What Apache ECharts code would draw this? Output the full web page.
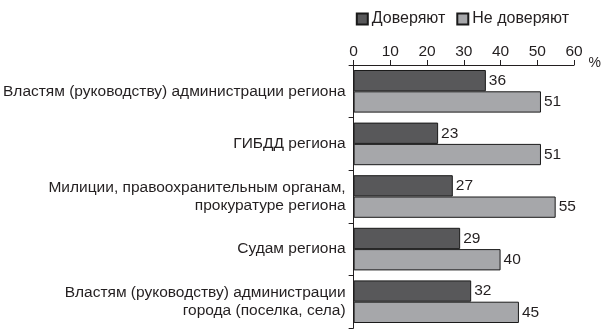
<!DOCTYPE html>
<html><head><meta charset="utf-8">
<script src="https://cdn.jsdelivr.net/npm/echarts@6/dist/echarts.min.js"></script>
<style>html,body{margin:0;padding:0;background:#fff}#c{width:604px;height:334px}</style>
</head><body><div id="c"></div>
<script>
const categories = [
  "Властям (руководству) администрации региона",
  "ГИБДД региона",
  "Милиции, правоохранительным органам,\nпрокуратуре региона",
  "Судам региона",
  "Властям (руководству) администрации\nгорода (поселка, села)"
];
const seriesNames = ["Доверяют", "Не доверяют"];
const trustValues = [36, 23, 27, 29, 32];
const distrustValues = [51, 51, 55, 40, 45];
const xTicks = [0, 10, 20, 30, 40, 50, 60];

const chart = echarts.init(document.getElementById('c'), null, {renderer: 'canvas'});
const font = 'Liberation Sans, Arial, sans-serif';
const txt = '#231f20';
chart.setOption({
  animation: false,
  textStyle: {fontFamily: font},
  legend: {
    top: 6, right: 30,
    itemWidth: 11, itemHeight: 11, itemGap: 11,
    textStyle: {fontSize: 16, color: txt, fontFamily: font, padding: [0,0,0,-1]},
    data: seriesNames.map(n => ({name: n, icon: 'rect'}))
  },
  grid: {left: 353, right: 29, top: 65, bottom: 6, containLabel: false},
  xAxis: {
    type: 'value', position: 'top', min: xTicks[0], max: xTicks[xTicks.length-1], interval: 10,
    name: '%', nameLocation: 'end', nameGap: 7,
    nameTextStyle: {fontSize: 14, color: txt, verticalAlign: 'top', padding: [-9,0,0,0]},
    axisLine: {show: true, lineStyle: {color: '#231f20', width: 1}},
    axisTick: {show: true, inside: false, length: 5, lineStyle: {color: '#231f20'}},
    axisLabel: {fontSize: 15.5, color: txt, margin: 5},
    splitLine: {show: false}
  },
  yAxis: {
    type: 'category', inverse: true, data: categories,
    axisLine: {show: true, lineStyle: {color: '#231f20', width: 1}},
    axisTick: {show: true, inside: false, length: 5, lineStyle: {color: '#231f20'}},
    axisLabel: {fontSize: 15.5, color: txt, margin: 8, lineHeight: 18, align: 'right', padding: [6,0,0,0]}
  },
  series: [
    {
      name: seriesNames[0], type: 'bar', data: trustValues,
      barGap: '0%', barCategoryGap: '19%',
      itemStyle: {color: '#58585a', borderColor: '#1a1a1a', borderWidth: 1},
      label: {show: true, position: 'right', distance: 3, fontSize: 15.5, color: txt}
    },
    {
      name: seriesNames[1], type: 'bar', data: distrustValues,
      barGap: '0%', barCategoryGap: '19%',
      itemStyle: {color: '#a6a7aa', borderColor: '#1a1a1a', borderWidth: 1},
      label: {show: true, position: 'right', distance: 3, fontSize: 15.5, color: txt}
    }
  ]
});
</script>
</body></html>
